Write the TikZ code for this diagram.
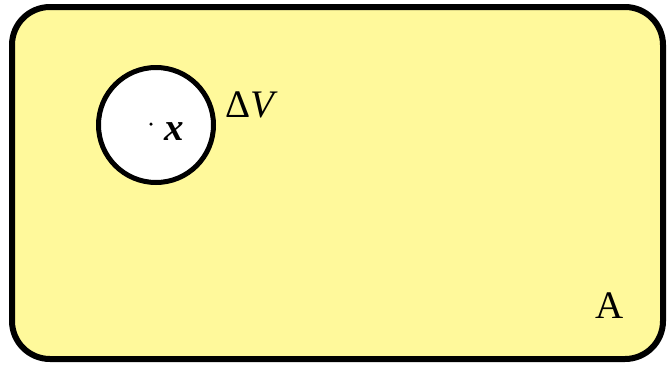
\documentclass[tikz,border=0pt]{standalone}
\usepackage{fontspec}
\setmainfont{Liberation Serif}
\definecolor{pad}{RGB}{255,249,155}
\tikzset{
  region/.style={draw=black, line width=6pt, fill=pad, rounded corners=38pt},
  ball/.style={circle, draw=black, line width=5pt, fill=white, minimum size=115pt, inner sep=0pt},
  lbl/.style={inner sep=0pt, font=\fontsize{39}{44}\selectfont}
}
\begin{document}
\begin{tikzpicture}[x=1pt,y=-1pt]
\useasboundingbox (0,0) rectangle (668,367);
\draw[region] (12,7) rectangle (663,359);
\node[ball] (dv) at (156,125) {};
\node[inner sep=0pt, circle, fill=black, minimum size=3.5pt] (pt) at (151,124) {};
\node[lbl, anchor=base west] (xl) at (164,140) {\textbf{\textit{x}}};
\node[lbl, anchor=base west] (dvl) at (225,117) {Δ\textit{V}};
\node[lbl, anchor=base] (a) at (610,318) {A};
\end{tikzpicture}
\end{document}
